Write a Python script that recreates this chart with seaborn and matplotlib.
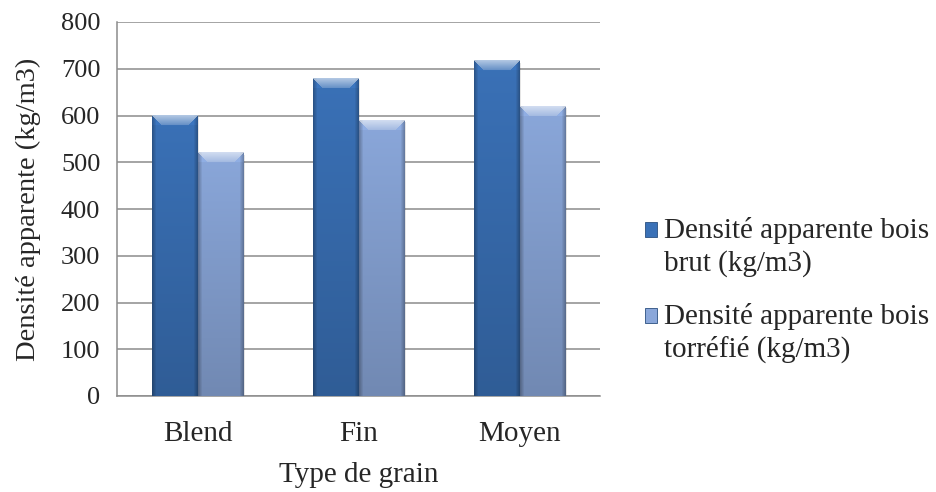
import numpy as np
import pandas as pd
import matplotlib
matplotlib.use("Agg")
import matplotlib.pyplot as plt
from matplotlib.patches import Patch, Rectangle
from matplotlib.legend_handler import HandlerPatch
import seaborn as sns

categories = ["Blend", "Fin", "Moyen"]
brut = [600, 680, 717]
torrefie = [520, 590, 620]
series_names = ["Densité apparente bois\nbrut (kg/m3)",
                "Densité apparente bois\ntorréfié (kg/m3)"]
y_ticks = [0, 100, 200, 300, 400, 500, 600, 700, 800]

colors = ["#3a71b7", "#8aa7da"]

df = pd.DataFrame({
    "Type de grain": categories * 2,
    "valeur": brut + torrefie,
    "série": [series_names[0]] * 3 + [series_names[1]] * 3,
})

sns.set_style("white")
plt.rcParams["font.family"] = ["Liberation Serif", "DejaVu Serif"]
FS = 21

fig = plt.figure(figsize=(9.36, 4.92), dpi=100)
ax = fig.add_axes([117 / 936, 1 - 396 / 492, (600 - 117) / 936, (396 - 22) / 492])

sns.barplot(data=df, x="Type de grain", y="valeur", hue="série",
            palette=colors, width=0.57, gap=0, ax=ax, legend=False,
            edgecolor="none", zorder=2)

ax.set_xlim(-0.5, 2.5)
ax.set_ylim(0, 800)
ax.set_yticks(y_ticks)
ax.set_yticklabels([str(t) for t in y_ticks])
ax.grid(axis="y", color="#8c8c8c", linewidth=1.1, zorder=0)
ax.set_axisbelow(True)
for side in ("top", "right"):
    ax.spines[side].set_visible(False)
for side in ("left", "bottom"):
    ax.spines[side].set_color("#8c8c8c")
    ax.spines[side].set_linewidth(1.1)
ax.set_xticks([0, 1, 2])
ax.set_xticks([-0.5, 0.5, 1.5, 2.5], minor=True)
ax.tick_params(axis="x", which="major", length=0, pad=18, labelsize=FS)
ax.tick_params(axis="x", which="minor", length=7, width=1.1, color="#8c8c8c", direction="out")
ax.tick_params(axis="y", length=7, width=1.1, color="#8c8c8c", direction="out", labelsize=19, pad=5)
ax.set_xlabel("Type de grain", fontsize=FS, labelpad=11)
ax.set_ylabel("Densité apparente (kg/m3)", fontsize=20.5, labelpad=14)


def bevel_image(base, w, h, bevel=10, edge=4):
    """RGB array giving a soft bevelled look to a bar of w x h pixels."""
    base = np.array(matplotlib.colors.to_rgb(base))
    H, W = max(int(round(h)), 2), max(int(round(w)), 2)
    rows = np.arange(H)[:, None] * np.ones((1, W))
    cols = np.ones((H, 1)) * np.arange(W)[None, :]
    shade = 1.0 - 0.18 * rows / max(H - 1, 1)
    img = base[None, None, :] * shade[..., None]
    dist_edge = np.minimum(cols, W - 1 - cols)
    side = np.clip(dist_edge / edge, 0, 1)
    img = img * (0.75 + 0.25 * side)[..., None]
    b = min(bevel, H // 2)
    top = (rows < b) & (cols >= rows) & (cols <= W - 1 - rows)
    mix = 0.2 + 0.4 * (1 - rows / max(b, 1))
    light = img + (1 - img) * mix[..., None]
    img = np.where(top[..., None], light, img)
    corner = (rows < b) & ~top
    img = np.where(corner[..., None], img * 1.05, img)
    return np.clip(img, 0, 1)


fig.canvas.draw()
to_px = ax.transData
for container, col in zip(ax.containers, colors):
    for bar in container:
        x0, y0 = bar.get_x(), bar.get_y()
        bw, bh = bar.get_width(), bar.get_height()
        (px0, py0), (px1, py1) = to_px.transform([(x0, y0), (x0 + bw, y0 + bh)])
        img = bevel_image(col, px1 - px0, py1 - py0)
        # soft drop shadow on the right
        ax.bar(x0 + bw / 2 + 0.012, bh, width=bw, bottom=-4, color="#000000",
               alpha=0.10, zorder=1.5, linewidth=0)
        ax.imshow(img, extent=(x0, x0 + bw, y0, y0 + bh), origin="upper",
                  aspect="auto", interpolation="bilinear", zorder=3)
        bar.set_visible(False)

ax.set_xlim(-0.5, 2.5)
ax.set_ylim(0, 800)


class FirstLineSquare(HandlerPatch):
    """Legend key drawn beside the first line of a two-line label."""

    def create_artists(self, legend, orig_handle, xdescent, ydescent,
                       width, height, fontsize, trans):
        shift = 0.58 * fontsize
        rect = Rectangle((-xdescent, -ydescent + shift), width, height,
                         facecolor=orig_handle.get_facecolor(),
                         edgecolor=orig_handle.get_edgecolor(),
                         linewidth=orig_handle.get_linewidth(),
                         transform=trans)
        return [rect]


handles = [Patch(facecolor=c, edgecolor="#2a4f80", linewidth=0.6) for c in colors]
leg = fig.legend(handles, series_names, loc="center left",
                 bbox_to_anchor=(645 / 936, 1 - 290 / 492),
                 frameon=False, fontsize=FS, handlelength=0.42, handleheight=0.42,
                 handletextpad=0.22, labelspacing=0.88, borderpad=0, borderaxespad=0,
                 handler_map={Patch: FirstLineSquare()})
for t in leg.get_texts():
    t.set_linespacing(1.3)

fig.savefig("out.png", dpi=100)
